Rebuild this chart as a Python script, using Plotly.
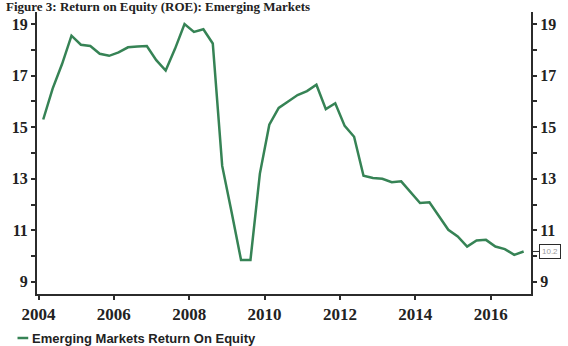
import plotly.graph_objects as go

# ---- data ----
quarters = [2004.125 + 0.25 * i for i in range(52)]
roe = [15.3, 16.5, 17.45, 18.55, 18.2, 18.15, 17.85, 17.77,
       17.9, 18.1, 18.13, 18.15, 17.6, 17.2, 18.05, 19.0,
       18.7, 18.8, 18.25, 13.5, 11.7, 9.85, 9.85, 13.2,
       15.1, 15.75, 16.0, 16.25, 16.4, 16.65, 15.7, 15.93,
       15.05, 14.63, 13.12, 13.03, 13.0, 12.87, 12.9, 12.5,
       12.06, 12.09, 11.54, 11.02, 10.76, 10.37, 10.61, 10.63,
       10.37, 10.27, 10.05, 10.18]
series_name = "Emerging Markets Return On Equity"
title_text = "Figure 3: Return on Equity (ROE): Emerging Markets"
x_ticks = [2004, 2006, 2008, 2010, 2012, 2014, 2016]
y_ticks = [9, 11, 13, 15, 17, 19]
last_label = "10.2"

LINE = "#368355"
AX = "#2b2b2b"
serif = "Liberation Serif"
PW = 568 - 35 - 26   # plot width px
PH = 346 - 12 - 52   # plot height px

fig = go.Figure()
fig.add_trace(go.Scatter(x=quarters, y=roe, mode="lines", name=series_name,
                         line=dict(color=LINE, width=2.5), showlegend=False))
# invisible trace to anchor the right-hand axis
fig.add_trace(go.Scatter(x=quarters, y=roe, mode="lines", yaxis="y2",
                         line=dict(width=0), hoverinfo="skip", showlegend=False))

yr = [8.53, 19.47]
axis_common = dict(
    range=yr, tickvals=y_ticks, ticks="outside", ticklen=4, tickwidth=1.5,
    tickcolor=AX, showline=True, linecolor=AX, linewidth=2, showgrid=False,
    zeroline=False,
    tickfont=dict(family=serif, size=16, color="#222", weight="bold"),
    minor=dict(tickvals=[10, 12, 14, 16, 18], ticks="outside", ticklen=4,
               tickcolor=AX, tickwidth=1.5, showgrid=False),
)

fig.update_layout(
    width=568, height=346,
    margin=dict(l=35, r=26, t=12, b=52),
    paper_bgcolor="white", plot_bgcolor="white",
    xaxis=dict(range=[2003.96, 2017.07], tickvals=x_ticks, ticks="outside",
               ticklen=4, tickwidth=1.5, tickcolor=AX, showline=True,
               linecolor=AX, linewidth=2, showgrid=False, zeroline=False,
               tickfont=dict(family=serif, size=17, color="#222", weight="bold")),
    yaxis=dict(side="left", **axis_common),
    yaxis2=dict(side="right", overlaying="y", **axis_common),
)

# title at top (kept fully visible within the top strip)
fig.add_annotation(text=title_text, xref="paper", yref="paper",
                   x=(1 - 35) / PW, y=1 + (12 - 6) / PH,
                   xanchor="left", yanchor="middle", showarrow=False,
                   font=dict(family=serif, size=13, color="#222", weight="bold"))

# legend at the bottom
fig.add_shape(type="line", xref="paper", yref="paper",
              x0=(15 - 35) / PW, x1=(26 - 35) / PW,
              y0=-(338 - 294) / PH, y1=-(338 - 294) / PH,
              line=dict(color=LINE, width=2.5))
fig.add_annotation(text=series_name, xref="paper", yref="paper",
                   x=(28 - 35) / PW, y=-(338 - 294) / PH,
                   xanchor="left", yanchor="middle", showarrow=False,
                   font=dict(family="Liberation Sans Narrow, Liberation Sans",
                             size=13, color="#222", weight="bold"))

# last-value callout on right axis
fig.add_annotation(text=last_label, xref="paper", yref="y",
                   x=1, y=roe[-1], ax=8, ay=0, axref="pixel", ayref="pixel",
                   showarrow=True, arrowhead=0, arrowwidth=1, arrowcolor=AX,
                   xanchor="left",
                   font=dict(family="Liberation Sans", size=8, color="#9a9a9a"),
                   bordercolor=AX, borderwidth=1, borderpad=2, bgcolor="white")

fig.write_html("out.html")
